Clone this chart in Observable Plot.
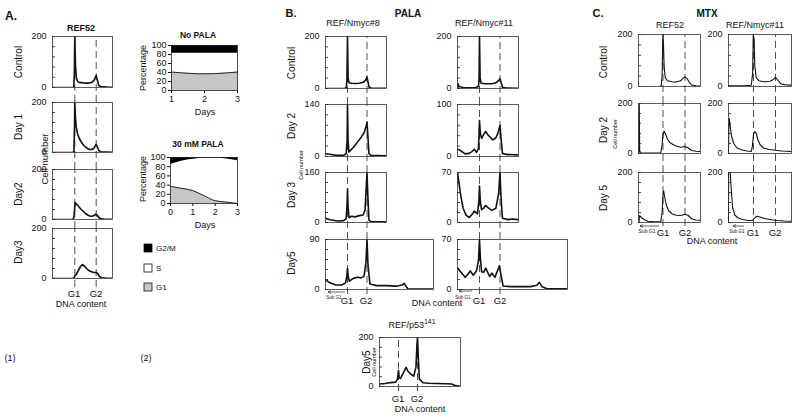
<!DOCTYPE html>
<html><head><meta charset="utf-8">
<script src="https://cdn.jsdelivr.net/npm/d3@7"></script>
<script src="https://cdn.jsdelivr.net/npm/@observablehq/plot@0.6"></script>
<style>
html,body{margin:0;padding:0;background:#fff;}
#root{position:relative;width:800px;height:417px;overflow:hidden;background:#fff;}
#root svg{position:absolute;}
</style></head>
<body><div id="root"></div>
<script>
// ---------- DATA (DNA content in G1 units: G1 = 1, G2 = 2; counts in cell number) ----------
// Panel A(1): REF52 under PALA
const aControl = [[-0.07,0],[0.9,0],[0.95,2],[0.98,60],[1.0,200],[1.03,90],[1.07,40],[1.12,25],[1.2,20],[1.4,18],[1.6,17],[1.8,20],[1.9,28],[1.97,42],[2.0,47],[2.05,30],[2.12,8],[2.2,4],[2.5,2],[2.77,1]];
const aDay1 = [[-0.07,0],[0.9,0],[0.96,5],[0.99,120],[1.0,200],[1.03,140],[1.07,100],[1.12,78],[1.2,58],[1.3,42],[1.4,30],[1.5,22],[1.6,16],[1.7,12],[1.8,12],[1.9,18],[1.97,30],[2.0,33],[2.05,22],[2.12,8],[2.2,3],[2.5,2],[2.77,1]];
const aDay2 = [[-0.07,0],[0.9,0],[0.96,8],[1.0,55],[1.02,68],[1.06,62],[1.12,58],[1.2,50],[1.3,40],[1.4,32],[1.5,24],[1.6,18],[1.7,14],[1.8,13],[1.9,16],[1.98,21],[2.05,17],[2.12,8],[2.2,4],[2.35,2],[2.77,1]];
const aDay3 = [[-0.07,0],[0.9,0],[0.96,3],[1.0,10],[1.05,14],[1.15,30],[1.25,46],[1.35,56],[1.45,50],[1.55,40],[1.65,32],[1.75,28],[1.9,24],[2.0,24],[2.07,20],[2.15,8],[2.25,3],[2.5,1],[2.77,1]];

// Panel A(2): cell-cycle percentages
const noPalaDays = [1, 2, 3];
const noPalaG1 = [41, 37, 41];
const noPalaG1S = [83, 83, 83];
const palaDays = [0, 0.5, 1, 1.5, 2, 2.5, 3];
const palaG1 = [37, 33, 28, 17, 6, 3, 0];
const palaG1S = [85, 92, 96, 99, 99, 97, 93];

// Panel B: PALA
const b8Control = [[-0.16,0],[0.85,0],[0.93,3],[0.97,30],[1.0,200],[1.03,40],[1.08,22],[1.2,20],[1.4,19],[1.6,20],[1.8,24],[1.93,32],[2.0,44],[2.04,30],[2.1,6],[2.2,2],[3.0,1]];
const b8Day2 = [[-0.16,8],[0.1,6],[0.4,3],[0.8,3],[0.93,8],[0.98,40],[1.0,140],[1.03,40],[1.07,12],[1.15,16],[1.3,25],[1.5,38],[1.7,52],[1.85,64],[1.95,80],[2.0,92],[2.04,60],[2.1,8],[2.2,3],[3.0,2]];
const b8Day3 = [[-0.16,14],[0.1,9],[0.5,5],[0.8,6],[0.93,12],[0.98,60],[1.0,108],[1.03,50],[1.08,15],[1.2,20],[1.4,18],[1.6,22],[1.8,24],[1.9,40],[1.96,110],[2.0,160],[2.04,90],[2.1,8],[2.2,3],[3.0,2]];
const b8Day5 = [[-0.16,18],[0.1,12],[0.4,8],[0.7,8],[0.9,12],[0.97,25],[1.0,38],[1.04,22],[1.1,15],[1.3,20],[1.5,22],[1.7,21],[1.85,24],[1.95,50],[2.0,90],[2.05,45],[2.15,10],[2.5,7],[3.0,7],[3.5,6],[3.8,8],[3.9,11],[4.0,6],[4.1,1],[5.53,1]];
const b11Control = [[-0.07,0],[-0.04,18],[0.0,8],[0.2,4],[0.8,3],[0.95,8],[0.98,40],[1.0,200],[1.03,40],[1.08,20],[1.3,18],[1.6,18],[1.8,22],[1.93,30],[2.0,38],[2.05,25],[2.12,5],[2.3,2],[2.9,1]];
const b11Day2 = [[-0.07,14],[0.05,12],[0.3,5],[0.5,6],[0.65,10],[0.75,14],[0.85,8],[0.95,15],[1.0,69],[1.04,45],[1.1,35],[1.2,42],[1.3,48],[1.4,42],[1.5,38],[1.65,32],[1.8,36],[1.9,45],[2.0,60],[2.05,35],[2.12,6],[2.3,4],[2.9,3]];
const b11Day3 = [[-0.07,70],[0.0,55],[0.1,35],[0.2,20],[0.35,10],[0.5,7],[0.65,12],[0.75,16],[0.9,12],[0.97,30],[1.0,51],[1.04,30],[1.1,18],[1.2,20],[1.3,24],[1.45,20],[1.6,17],[1.8,20],[1.93,40],[2.0,70],[2.05,35],[2.12,6],[2.4,4],[2.6,5],[2.9,4]];
const b11Day5 = [[-0.07,30],[0.1,24],[0.3,17],[0.45,22],[0.55,26],[0.7,20],[0.85,26],[0.95,40],[1.0,70],[1.04,45],[1.1,25],[1.2,24],[1.3,30],[1.4,24],[1.5,18],[1.6,23],[1.75,17],[1.9,28],[1.97,33],[2.05,20],[2.15,5],[2.5,4],[3.0,4],[3.5,4],[3.8,6],[3.92,10],[4.05,4],[4.3,1],[5.32,1]];
const p53Day5 = [[0,10],[0.3,12],[0.6,16],[0.85,18],[0.95,30],[1.0,65],[1.04,35],[1.1,32],[1.25,55],[1.4,78],[1.5,62],[1.65,50],[1.8,42],[1.92,80],[1.97,170],[2.0,200],[2.04,120],[2.1,30],[2.3,15],[2.6,13],[3.0,12],[3.5,11],[3.8,10],[3.95,5],[4.1,2],[4.26,2]];

// Panel C: MTX
const cRefControl = [[-0.09,0],[0.85,0],[0.92,4],[0.96,40],[0.99,180],[1.0,200],[1.02,170],[1.05,80],[1.1,35],[1.2,22],[1.4,18],[1.6,17],[1.8,22],[1.92,32],[2.0,37],[2.1,30],[2.2,15],[2.3,6],[2.5,3],[2.68,2]];
const cRefDay2 = [[-0.09,0],[-0.08,200],[-0.06,10],[0.0,3],[0.5,2],[0.9,3],[0.95,30],[1.0,75],[1.05,89],[1.1,80],[1.2,58],[1.3,45],[1.45,36],[1.6,30],[1.8,25],[2.0,28],[2.15,22],[2.3,12],[2.5,9],[2.68,8]];
const cRefDay5 = [[-0.09,0],[-0.07,27],[0.0,22],[0.1,14],[0.3,5],[0.6,3],[0.9,4],[0.96,40],[1.0,110],[1.03,127],[1.08,100],[1.15,70],[1.25,48],[1.4,35],[1.6,29],[1.8,28],[2.0,33],[2.15,28],[2.3,15],[2.5,10],[2.68,9]];
const c11Control = [[-0.14,3],[0.2,3],[0.6,3],[0.9,5],[0.96,50],[0.99,200],[1.03,180],[1.06,80],[1.12,35],[1.25,22],[1.5,18],[1.75,20],[1.9,27],[2.0,35],[2.1,25],[2.25,10],[2.5,6],[2.73,5]];
const c11Day2 = [[-0.14,0],[-0.12,100],[-0.1,140],[-0.06,110],[0.0,70],[0.1,40],[0.25,22],[0.45,15],[0.7,10],[0.9,8],[0.95,30],[1.0,75],[1.05,87],[1.12,82],[1.2,55],[1.3,35],[1.45,22],[1.7,16],[2.0,13],[2.3,10],[2.73,8]];
const c11Day5 = [[-0.14,0],[-0.13,200],[-0.1,230],[-0.06,200],[0.0,120],[0.05,60],[0.15,30],[0.3,18],[0.5,12],[0.75,8],[0.95,8],[1.05,18],[1.15,25],[1.3,22],[1.5,16],[1.8,11],[2.1,8],[2.4,6],[2.73,5]];

// ---------- LAYOUT ----------
const FONT = "'Liberation Sans', Arial, Helvetica, sans-serif";
const root = document.getElementById("root");
function place(el, left, top) { el.style.left = left + "px"; el.style.top = top + "px"; root.appendChild(el); }

function hist(data, f) {
  const u = f.g2 - f.g1, z = f.g1 - u;
  const xd = [(f.x0 - z) / u, (f.x1 - z) / u];
  const ml = 30, mr = 4, mt = 6, mb = 22;
  const w = f.x1 - f.x0, h = f.y1 - f.y0;
  const yExt = -(f.ext ?? 10) / h * f.ymax;
  const svg = Plot.plot({
    width: w + ml + mr, height: h + mt + mb,
    marginLeft: ml, marginRight: mr, marginTop: mt, marginBottom: mb,
    style: {fontFamily: FONT, fontSize: "9px", background: "none", overflow: "visible", color: "#111"},
    x: {domain: xd, axis: null},
    y: {domain: [0, f.ymax], axis: null},
    marks: [
      Plot.axisY({ticks: d3.range(0, f.ymax + 1e-6, f.ymax / 5), tickSize: -3, tickFormat: () => "", label: null, stroke: "#444"}),
      Plot.axisY({ticks: [0, f.ymax], tickSize: 0, tickPadding: 6, fontSize: 9, label: null}),
      Plot.ruleX([1, 2], {y1: yExt, y2: f.ymax, stroke: "#222", strokeWidth: 0.8, strokeDasharray: "7,4"}),
      Plot.line(data, {x: d => d[0], y: d => d[1], clip: true, stroke: "#111", strokeWidth: f.sw ?? 1.6}),
      Plot.frame({stroke: "#333", strokeWidth: 0.8})
    ]
  });
  place(svg, f.x0 - ml, f.y0 - mt);
}

function cycle(days, g1, g1s, f) {
  const rows = days.map((d, i) => ({day: d, g1: g1[i], g1s: g1s[i]}));
  const ml = 28, mr = 6, mt = 4, mb = 18;
  const svg = Plot.plot({
    width: f.x1 - f.x0 + ml + mr, height: f.y1 - f.y0 + mt + mb,
    marginLeft: ml, marginRight: mr, marginTop: mt, marginBottom: mb,
    style: {fontFamily: FONT, fontSize: "9px", background: "none", overflow: "visible", color: "#111"},
    x: {domain: [days[0], days[days.length - 1]], axis: null},
    y: {domain: [0, 100], axis: null},
    marks: [
      Plot.areaY(rows, {x: "day", y1: 0, y2: "g1", fill: "#c6c6c6", curve: "monotone-x"}),
      Plot.areaY(rows, {x: "day", y1: "g1s", y2: 100, fill: "#000", curve: "monotone-x"}),
      Plot.lineY(rows, {x: "day", y: "g1", stroke: "#222", strokeWidth: 1, curve: "monotone-x"}),
      Plot.axisY({ticks: [0, 20, 40, 60, 80, 100], tickSize: 3, tickPadding: 2, label: null, tickFormat: d3.format("d")}),
      Plot.axisX({ticks: f.xticks, tickSize: 3, tickPadding: 2, label: null, tickFormat: d3.format("d")}),
      Plot.frame({stroke: "#222", strokeWidth: 0.8})
    ]
  });
  place(svg, f.x0 - ml, f.y0 - mt);
}

// Panel A(1)
const A = {x0: 52, x1: 112, g1: 74.3, g2: 95.7, ymax: 200};
hist(aControl, {...A, y0: 36, y1: 87, ext: 15});
hist(aDay1, {...A, y0: 102, y1: 152, ext: 17});
hist(aDay2, {...A, y0: 169, y1: 219, ext: 9});
hist(aDay3, {...A, y0: 228, y1: 278, ext: 9});

// Panel A(2)
cycle(noPalaDays, noPalaG1, noPalaG1S, {x0: 171, x1: 237, y0: 45, y1: 90, xticks: [1, 2, 3]});
cycle(palaDays, palaG1, palaG1S, {x0: 170, x1: 237, y0: 157, y1: 203, xticks: [0, 1, 2, 3]});

// Panel B
const B8 = {x0: 325, x1: 386, g1: 347, g2: 366.5};
hist(b8Control, {...B8, y0: 36, y1: 88, ymax: 200, ext: 16});
hist(b8Day2, {...B8, y0: 104, y1: 156, ymax: 140, ext: 16});
hist(b8Day3, {...B8, y0: 172, y1: 222, ymax: 160, ext: 17});
hist(b8Day5, {...B8, x1: 433, y0: 239, y1: 289, ymax: 90, ext: 5});
const B11 = {x0: 457, x1: 518, g1: 479, g2: 499.5};
hist(b11Control, {...B11, y0: 36, y1: 88, ymax: 200, ext: 16});
hist(b11Day2, {...B11, y0: 104, y1: 156, ymax: 100, ext: 16});
hist(b11Day3, {...B11, y0: 172, y1: 222, ymax: 70, ext: 17});
hist(b11Day5, {...B11, x1: 567, y0: 239, y1: 289, ymax: 70, ext: 5});
hist(p53Day5, {x0: 379, x1: 460, g1: 398, g2: 417, y0: 337, y1: 386, ymax: 200, ext: 5});

// Panel C
const CR = {x0: 638, x1: 700, g1: 662.5, g2: 684.5, ymax: 200, sw: 1.1};
hist(cRefControl, {...CR, y0: 34, y1: 86, ext: 17});
hist(cRefDay2, {...CR, y0: 103, y1: 153, ext: 19});
hist(cRefDay5, {...CR, y0: 172, y1: 222, ext: 4});
const C11 = {x0: 728, x1: 791, g1: 753, g2: 775, ymax: 200, sw: 1.1};
hist(c11Control, {...C11, y0: 34, y1: 86, ext: 17});
hist(c11Day2, {...C11, y0: 103, y1: 153, ext: 19});
hist(c11Day5, {...C11, y0: 172, y1: 222, ext: 4});

// ---------- TEXT OVERLAY ----------
const NS = "http://www.w3.org/2000/svg";
const ov = document.createElementNS(NS, "svg");
ov.setAttribute("width", 800); ov.setAttribute("height", 417);
ov.style.left = "0px"; ov.style.top = "0px"; ov.style.fontFamily = FONT; ov.style.overflow = "visible";
root.appendChild(ov);
function txt(s, x, y, size = 9, o = {}) {
  const t = document.createElementNS(NS, "text");
  t.setAttribute("x", x); t.setAttribute("y", y);
  t.setAttribute("font-size", size);
  t.setAttribute("text-anchor", o.anchor || "middle");
  t.setAttribute("dominant-baseline", "central");
  t.setAttribute("fill", "#111");
  if (o.bold) t.setAttribute("font-weight", "bold");
  if (o.rot) t.setAttribute("transform", `rotate(-90 ${x} ${y})`);
  t.textContent = s;
  ov.appendChild(t);
  return t;
}
function arrow(xFrom, xTo, y) {
  const l = document.createElementNS(NS, "path");
  l.setAttribute("d", `M${xFrom},${y}H${xTo}M${xTo + 3},${y - 1.5}L${xTo},${y}L${xTo + 3},${y + 1.5}`);
  l.setAttribute("stroke", "#222"); l.setAttribute("stroke-width", 0.7); l.setAttribute("fill", "none");
  ov.appendChild(l);
}
function box(x, y, fill) {
  const r = document.createElementNS(NS, "rect");
  r.setAttribute("x", x); r.setAttribute("y", y); r.setAttribute("width", 8); r.setAttribute("height", 8);
  r.setAttribute("fill", fill); r.setAttribute("stroke", "#111"); r.setAttribute("stroke-width", 0.8);
  ov.appendChild(r);
}

// A
txt("A.", 11, 16, 12, {bold: true});
txt("REF52", 81, 28, 9, {bold: true});
txt("Control", 18, 62, 10, {rot: true});
txt("Day 1", 18, 127, 10, {rot: true});
txt("Day2", 18, 194, 10, {rot: true});
txt("Day3", 18, 252, 10, {rot: true});
txt("Cell number", 44, 159, 9.5, {rot: true});
txt("G1", 74, 293, 9.5); txt("G2", 96, 293, 9.5);
txt("DNA content", 81, 304, 9);
txt("(1)", 10, 358, 9); txt("(2)", 146, 358, 9);
txt("No PALA", 198, 35, 8.5, {bold: true});
txt("Percentage", 143, 68, 9, {rot: true});
txt("Days", 205, 112, 9);
txt("30 mM PALA", 198, 144, 8.5, {bold: true});
txt("Percentage", 143, 179, 9, {rot: true});
txt("Days", 205, 225, 9);
box(144, 244, "#000"); txt("G2/M", 156, 248, 8, {anchor: "start"});
box(144, 264, "#fff"); txt("S", 156, 268, 8, {anchor: "start"});
box(144, 283, "#c6c6c6"); txt("G1", 156, 287, 8, {anchor: "start"});

// B
txt("B.", 291, 13, 11, {bold: true});
txt("PALA", 408, 13, 10, {bold: true});
txt("REF/Nmyc#8", 353, 23, 9);
txt("REF/Nmyc#11", 484, 23, 9);
txt("Control", 291, 63, 10, {rot: true});
txt("Day 2", 291, 126, 10, {rot: true});
txt("Day 3", 291, 195, 10, {rot: true});
txt("Day5", 291, 263, 10, {rot: true});
txt("Cell number", 301, 165, 5.5, {rot: true});
arrow(345, 328, 292); txt("Sub G1", 334, 297, 4.5);
arrow(472, 459, 291); txt("Sub G1", 463, 297, 4.5);
txt("G1", 347, 300, 9.5); txt("G2", 366, 300, 9.5);
txt("G1", 479, 300, 9.5); txt("G2", 500, 300, 9.5);
txt("DNA content", 437, 303, 9);
const p = txt("REF/p53", 412, 325, 9);
const sup = document.createElementNS(NS, "tspan");
sup.setAttribute("dy", -4); sup.setAttribute("font-size", 7); sup.textContent = "141";
p.appendChild(sup);
txt("Day5", 366, 362, 10, {rot: true});
txt("Cell number", 374, 362, 5.5, {rot: true});
txt("G1", 398, 398, 9.5); txt("G2", 417, 398, 9.5);
txt("DNA content", 420, 409, 9);

// C
txt("C.", 598, 13, 11, {bold: true});
txt("MTX", 707, 13, 10, {bold: true});
txt("REF52", 670, 25, 9);
txt("REF/Nmyc#11", 755, 25, 9);
txt("Control", 603, 62, 10, {rot: true});
txt("Day 2", 603, 130, 10, {rot: true});
txt("Day 5", 603, 198, 10, {rot: true});
txt("Cell number", 615, 134, 5.5, {rot: true});
arrow(659, 640, 226); txt("Sub G1", 647, 231, 5);
arrow(744, 733, 226); txt("Sub G1", 737, 231, 4.5);
txt("G1", 663, 232, 9.5); txt("G2", 685, 232, 9.5);
txt("G1", 753, 232, 9.5); txt("G2", 775, 232, 9.5);
txt("DNA content", 712, 241, 9);
</script>
</body></html>
